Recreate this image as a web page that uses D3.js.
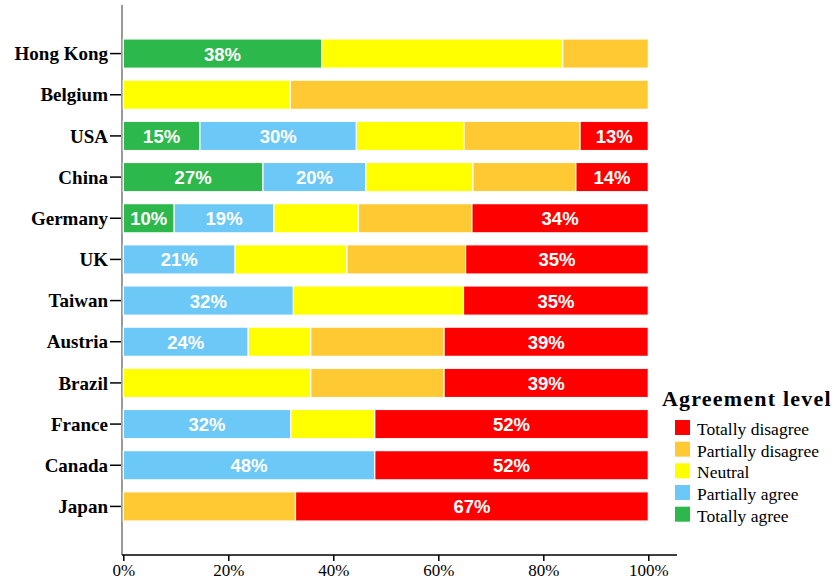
<!DOCTYPE html>
<html><head><meta charset="utf-8">
<script src="https://cdn.jsdelivr.net/npm/d3@7"></script>
<style>body{margin:0;background:#fff}</style>
</head><body><svg id="c" width="834" height="582"></svg>
<script>
const countries = ["Hong Kong","Belgium","USA","China","Germany","UK","Taiwan","Austria","Brazil","France","Canada","Japan"];
const levels = ["Totally agree","Partially agree","Neutral","Partially disagree","Totally disagree"];
const totallyAgree      = [37.8, 0, 14.6, 26.6, 9.7, 0, 0, 0, 0, 0, 0, 0];
const partiallyAgree    = [0, 0, 29.8, 19.6, 19.0, 21.3, 32.4, 23.8, 0, 31.9, 47.9, 0];
const neutral           = [45.9, 31.8, 20.5, 20.4, 16.1, 21.3, 32.4, 11.9, 35.7, 16.0, 0, 0];
const partiallyDisagree = [16.3, 68.2, 22.1, 19.6, 21.6, 22.6, 0, 25.4, 25.4, 0, 0, 32.8];
const totallyDisagree   = [0, 0, 13.0, 13.8, 33.6, 34.8, 35.2, 38.9, 38.9, 52.1, 52.1, 67.2];
const colors = ["#2DB84B","#6CC8F6","#FFFF00","#FFC933","#FF0000"];
const labelled = [true,true,false,false,true];
const xTicks = [0,20,40,60,80,100];

const series = [totallyAgree, partiallyAgree, neutral, partiallyDisagree, totallyDisagree];
const rows = countries.map((c,i)=>{const o={country:c}; levels.forEach((l,j)=>o[l]=series[j][i]); return o;});
const stacked = d3.stack().keys(levels)(rows);

const svg = d3.select("#c");
const x = d3.scaleLinear().domain([0,100]).range([123.3,648.3]);
const y = d3.scaleBand().domain(countries).range([33,527]).paddingInner(0.29).paddingOuter(0.145);

// y axis line
svg.append("line").attr("x1",122).attr("x2",122).attr("y1",5).attr("y2",555)
  .attr("stroke","#777").attr("stroke-width",1.5);

// bars
const g = svg.append("g");
stacked.forEach((s,j)=>{
  g.selectAll(null).data(s.filter(d=>d[1]-d[0]>0)).join("rect")
    .attr("x",d=>x(d[0])).attr("width",d=>x(d[1])-x(d[0]))
    .attr("y",d=>y(d.data.country)).attr("height",y.bandwidth())
    .attr("fill",colors[j]).attr("stroke","#fff").attr("stroke-width",1.2);
  if(labelled[j]){
    g.selectAll(null).data(s.filter(d=>d[1]-d[0]>=9)).join("text")
      .attr("x",d=>(x(d[0])+x(d[1]))/2).attr("y",d=>y(d.data.country)+y.bandwidth()/2)
      .attr("dy","0.38em").attr("text-anchor","middle")
      .attr("fill","#fff").attr("font-family","Liberation Sans, Arial, sans-serif")
      .attr("font-weight","bold").attr("font-size",18.5)
      .text(d=>Math.round(d[1]-d[0])+"%");
  }
});

// country labels + ticks
const yl = svg.append("g");
countries.forEach(c=>{
  const cy = y(c)+y.bandwidth()/2;
  yl.append("line").attr("x1",110).attr("x2",121).attr("y1",cy).attr("y2",cy).attr("stroke","#000").attr("stroke-width",1.5);
  yl.append("text").attr("x",108).attr("y",cy).attr("dy","0.35em").attr("text-anchor","end")
    .attr("font-family","Liberation Serif, Times New Roman, serif").attr("font-weight","bold")
    .attr("font-size",19).attr("fill","#000").text(c);
});

// x axis
const xa = svg.append("g").attr("transform","translate(0,555)")
  .call(d3.axisBottom(x).tickValues(xTicks).tickSize(6).tickFormat(d=>d+"%"));
xa.select(".domain").remove();
xa.selectAll(".tick line").attr("stroke","#000").attr("stroke-width",1.5);
xa.selectAll("text").attr("font-family","Liberation Serif, Times New Roman, serif").attr("font-size",17).attr("fill","#000").attr("dy","0.72em");
svg.append("line").attr("x1",122).attr("x2",677).attr("y1",555).attr("y2",555).attr("stroke","#000").attr("stroke-width",1.5);

// legend
const lg = svg.append("g");
lg.append("text").attr("x",662).attr("y",406).attr("font-family","Liberation Serif, Times New Roman, serif")
  .attr("font-weight","bold").attr("font-size",22).attr("letter-spacing","1.2px").attr("fill","#000").text("Agreement level");
const legendOrder = [4,3,2,1,0];
legendOrder.forEach((j,i)=>{
  const ty = 420 + i*21.67;
  lg.append("rect").attr("x",675).attr("y",ty).attr("width",15).attr("height",15).attr("fill",colors[j]);
  lg.append("text").attr("x",697).attr("y",ty+15).attr("font-family","Liberation Serif, Times New Roman, serif")
    .attr("font-size",17.5).attr("fill","#000").text(levels[j]);
});
</script></body></html>
